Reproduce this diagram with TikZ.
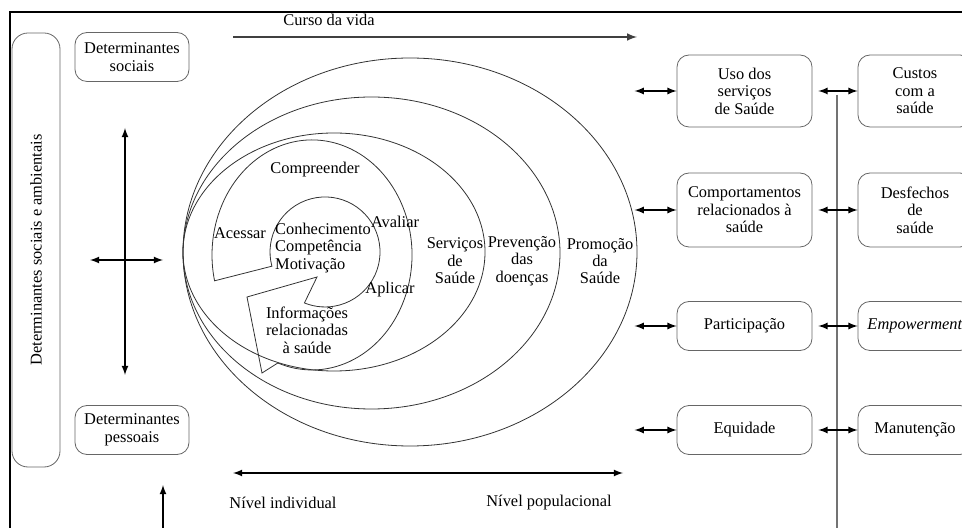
\documentclass[tikz,border=0pt]{standalone}
\usepackage{fontspec}
\setmainfont{Liberation Serif}
\usetikzlibrary{arrows}
\tikzstyle{caixa}=[rectangle, draw=black!60, rounded corners=6pt, align=center, inner sep=1pt, minimum width=67.5pt]
\tikzstyle{caixadir}=[caixa, minimum width=57pt]
\tikzstyle{rotulo}=[align=center, inner sep=0pt]
\tikzstyle{dupla}=[latex-latex, line width=0.6pt]
\tikzstyle{elipse}=[draw=black!80, line width=0.4pt]

\begin{document}
\begin{tikzpicture}[x=0.5pt, y=0.5pt, font=\fontsize{8.2}{8.7}\selectfont]
  \useasboundingbox (0,0) rectangle (962,-528);
  % moldura
  \draw[line width=0.9pt] (10,-528) -- (10,-12) -- (962,-12);

  % coluna da esquerda
  \node[caixa, rotate=90, minimum width=217pt, minimum height=24pt, rounded corners=8pt] (ambient) at (36,-250) {Determinantes sociais e ambientais};
  \node[caixa, minimum width=57pt, minimum height=24.5pt] (sociais) at (132,-57) {Determinantes\\sociais};
  \node[caixa, minimum width=57pt, minimum height=24.5pt] (pessoais) at (132,-430) {Determinantes\\pessoais};

  \coordinate (cima) at (125,-128);
  \coordinate (baixo) at (125,-375);
  \coordinate (esq) at (90,-260);
  \coordinate (dir) at (163,-260);
  \coordinate (fundo) at (163,-528);
  \coordinate (seta) at (163,-485);
  \draw[dupla] (cima) -- (baixo);
  \draw[dupla] (esq) -- (dir);
  \draw[-latex, line width=0.6pt] (fundo) -- (seta);

  % curso da vida
  \node[rotulo] (curso) at (329,-20) {Curso da vida};
  \coordinate (cv1) at (233,-37);
  \coordinate (cv2) at (637,-37);
  \draw[-latex, black!75, line width=0.7pt] (cv1) -- (cv2);

  % elipses
  \draw[elipse] (410,-252) ellipse [x radius=113.5pt, y radius=97pt];
  \draw[elipse] (371.5,-253) ellipse [x radius=94.25pt, y radius=78pt];
  \draw[elipse] (334,-252) ellipse [x radius=75.5pt, y radius=59.5pt];

  % espiral
  \draw[elipse] (271.9,-266.2) arc[start angle=195, end angle=-112, radius=27.5pt]
    -- (317,-277) -- (247,-297) -- (262,-373) -- (277.8,-363)
    arc[start angle=-110, end angle=193, x radius=50pt, y radius=57.5pt] -- cycle;

  \node[rotulo] (compre) at (315,-170) {Compreender};
  \node[rotulo] (acessar) at (240,-233) {Acessar};
  \node[rotulo, align=left] (conhec) at (323,-248) {Conhecimento\\Competência\\Motivação};
  \node[rotulo] (avaliar) at (395,-222) {Avaliar};
  \node[rotulo] (aplicar) at (390,-290) {Aplicar};
  \node[rotulo] (info) at (307,-330) {Informações\\relacionadas\\à saúde};
  \node[rotulo] (servicos) at (455,-261) {Serviços\\de\\Saúde};
  \node[rotulo] (prevencao) at (522,-261) {Prevenção\\das\\doenças};
  \node[rotulo] (promocao) at (600,-261) {Promoção\\da\\Saúde};

  % niveis
  \coordinate (ni1) at (233,-473);
  \coordinate (ni2) at (623,-473);
  \draw[dupla] (ni1) -- (ni2);
  \node[rotulo] (nivind) at (283,-503) {Nível individual};
  \node[rotulo] (nivpop) at (549,-503) {Nível populacional};

  % caixas da direita
  \node[caixa, minimum height=36pt] (uso) at (744.5,-91) {Uso dos\\serviços\\de Saúde};
  \node[caixa, minimum height=37pt] (comport) at (744.5,-210) {Comportamentos\\relacionados à\\saúde};
  \node[caixa, minimum height=24.5pt] (partic) at (744.5,-326) {Participação};
  \node[caixa, minimum height=24.5pt] (equid) at (744.5,-430) {Equidade};

  \node[caixadir, minimum height=36pt] (custos) at (915,-91) {Custos\\com a\\saúde};
  \node[caixadir, minimum height=37pt] (desfechos) at (915,-210) {Desfechos\\de\\saúde};
  \node[caixadir, minimum height=24.5pt] (empow) at (915,-326) {\emph{Empowerment}};
  \node[caixadir, minimum height=24.5pt] (manut) at (915,-430) {Manutenção};

  \coordinate (lin1) at (837,-95);
  \coordinate (lin2) at (837,-528);
  \draw[black!55, line width=0.8pt] (lin1) -- (lin2);

  \foreach \a/\b in {uso/custos, comport/desfechos, partic/empow, equid/manut}
  {
    \draw[dupla] ([xshift=-21pt]\a.west) -- (\a.west);
    \draw[dupla] ([xshift=3pt]\a.east) -- (\b.west);
  }
\end{tikzpicture}
\end{document}
